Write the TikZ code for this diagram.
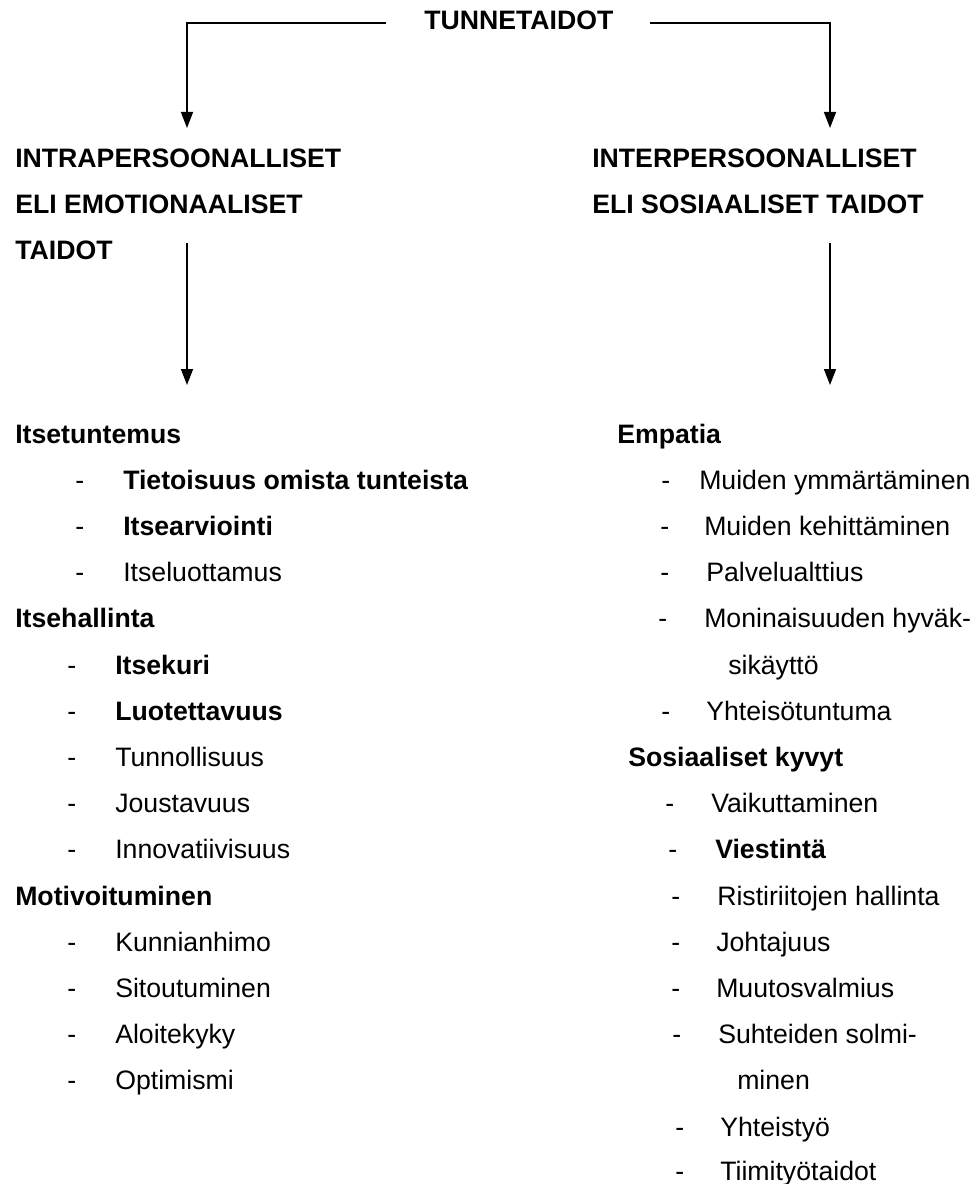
\documentclass[tikz,border=0pt]{standalone}
\usepackage{fontspec}
\setmainfont{Liberation Sans}
\usetikzlibrary{arrows.meta}
\tikzset{
  txt/.style={anchor=base west, inner sep=0pt, font=\fontsize{20}{23}\selectfont},
  bt/.style={txt, font=\fontsize{20}{23}\selectfont\bfseries},
  dsh/.style={txt},
  conn/.style={line width=1.2pt},
  arr/.style={conn, -{Triangle[length=12pt,width=9pt]}}
}
\begin{document}
\begin{tikzpicture}[x=0.75pt,y=-0.75pt]
\useasboundingbox (0,0) rectangle (976,1184);
% title
\node[bt] (title) at (424,30) {TUNNETAIDOT};
\coordinate (tl) at (386,23);
\coordinate (tr) at (650,23);
\coordinate (la) at (187,128);
\coordinate (ra) at (830,128);
\draw[arr] (tl) -| (la);
\draw[arr] (tr) -| (ra);
% headings
\node[bt] (h1) at (15,167) {INTRAPERSOONALLISET};
\node[bt] (h2) at (15,213) {ELI EMOTIONAALISET};
\node[bt] (h3) at (15,259) {TAIDOT};
\node[bt] (g1) at (592,167) {INTERPERSOONALLISET};
\node[bt] (g2) at (592,213) {ELI SOSIAALISET TAIDOT};
\coordinate (l2s) at (187,243);
\coordinate (l2e) at (187,385);
\coordinate (r2s) at (830,243);
\coordinate (r2e) at (830,385);
\draw[arr] (l2s) -- (l2e);
\draw[arr] (r2s) -- (r2e);
% left column
\node[bt] (a0) at (15,443) {Itsetuntemus};
\node[dsh] (da1) at (75,489.2) {-};
\node[bt] (a1) at (123,489.2) {Tietoisuus omista tunteista};
\node[dsh] (da2) at (75,535.4) {-};
\node[bt] (a2) at (123,535.4) {Itsearviointi};
\node[dsh] (da3) at (75,581.6) {-};
\node[txt] (a3) at (123,581.6) {Itseluottamus};
\node[bt] (a4) at (15,627.8) {Itsehallinta};
\node[dsh] (da5) at (67,674) {-};
\node[bt] (a5) at (115,674) {Itsekuri};
\node[dsh] (da6) at (67,720.2) {-};
\node[bt] (a6) at (115,720.2) {Luotettavuus};
\node[dsh] (da7) at (67,766.4) {-};
\node[txt] (a7) at (115,766.4) {Tunnollisuus};
\node[dsh] (da8) at (67,812.6) {-};
\node[txt] (a8) at (115,812.6) {Joustavuus};
\node[dsh] (da9) at (67,858.8) {-};
\node[txt] (a9) at (115,858.8) {Innovatiivisuus};
\node[bt] (a10) at (15,905) {Motivoituminen};
\node[dsh] (da11) at (67,951.2) {-};
\node[txt] (a11) at (115,951.2) {Kunnianhimo};
\node[dsh] (da12) at (67,997.4) {-};
\node[txt] (a12) at (115,997.4) {Sitoutuminen};
\node[dsh] (da13) at (67,1043.6) {-};
\node[txt] (a13) at (115,1043.6) {Aloitekyky};
\node[dsh] (da14) at (67,1089.8) {-};
\node[txt] (a14) at (115,1089.8) {Optimismi};
% right column
\node[bt] (b0) at (617,443) {Empatia};
\node[dsh] (db1) at (661,489.2) {-};
\node[txt] (b1) at (699,489.2) {Muiden ymmärtäminen};
\node[dsh] (db2) at (660,535.4) {-};
\node[txt] (b2) at (704,535.4) {Muiden kehittäminen};
\node[dsh] (db3) at (660,581.6) {-};
\node[txt] (b3) at (706,581.6) {Palvelualttius};
\node[dsh] (db4) at (658,627.8) {-};
\node[txt] (b4) at (704,627.8) {Moninaisuuden hyväk-};
\node[txt] (b5) at (728,674) {sikäyttö};
\node[dsh] (db6) at (661,720.2) {-};
\node[txt] (b6) at (706,720.2) {Yhteisötuntuma};
\node[bt] (b7) at (628,766.4) {Sosiaaliset kyvyt};
\node[dsh] (db8) at (665,812.6) {-};
\node[txt] (b8) at (711,812.6) {Vaikuttaminen};
\node[dsh] (db9) at (668,858.8) {-};
\node[bt] (b9) at (715,858.8) {Viestintä};
\node[dsh] (db10) at (671,905) {-};
\node[txt] (b10) at (717,905) {Ristiriitojen hallinta};
\node[dsh] (db11) at (671,951.2) {-};
\node[txt] (b11) at (716,951.2) {Johtajuus};
\node[dsh] (db12) at (671,997.4) {-};
\node[txt] (b12) at (716,997.4) {Muutosvalmius};
\node[dsh] (db13) at (672,1043.6) {-};
\node[txt] (b13) at (718,1043.6) {Suhteiden solmi-};
\node[txt] (b14) at (737,1089.8) {minen};
\node[dsh] (db15) at (675,1136) {-};
\node[txt] (b15) at (720,1136) {Yhteistyö};
\node[dsh] (db16) at (675,1180) {-};
\node[txt] (b16) at (720,1180) {Tiimityötaidot};
\end{tikzpicture}
\end{document}
